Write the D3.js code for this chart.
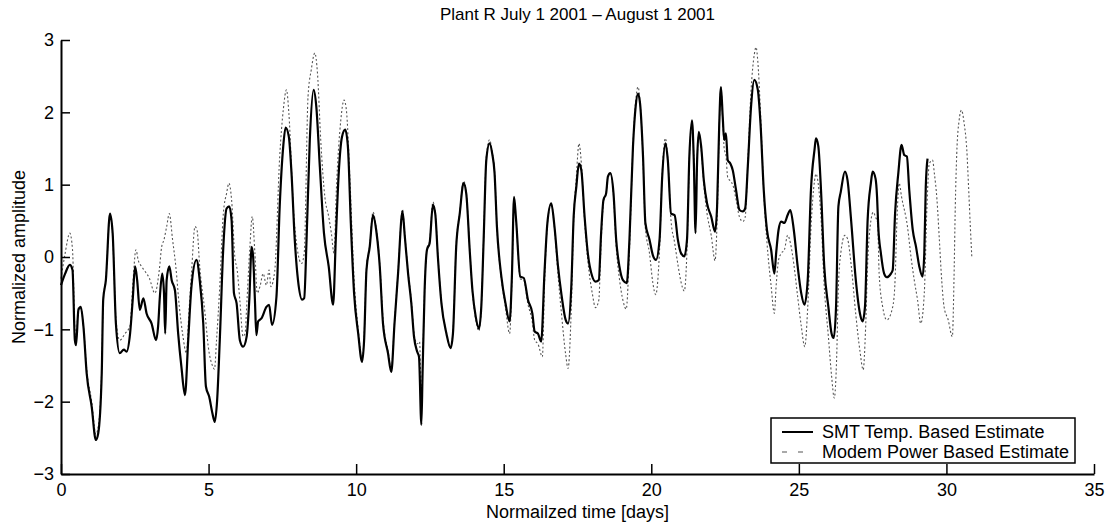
<!DOCTYPE html>
<html>
<head>
<meta charset="utf-8">
<script src="https://cdn.jsdelivr.net/npm/d3@7"></script>
<style>
  html, body { margin: 0; padding: 0; background: #fff; }
  svg { display: block; font-family: "Liberation Sans", Arial, Helvetica, sans-serif; }
</style>
</head>
<body>
<svg id="chart"></svg>
<script>
// Plant R normalized amplitude, two estimates

const TITLE = "Plant R July 1 2001 \u2013 August 1 2001";
const X_LABEL = "Normailzed time [days]";
const Y_LABEL = "Normalized amplitude";
const SERIES_NAMES = ["SMT Temp. Based Estimate", "Modem Power Based Estimate"];
const X_TICKS = [0, 5, 10, 15, 20, 25, 30, 35];
const Y_TICKS = [-3, -2, -1, 0, 1, 2, 3];

// [day, amplitude]
const smtPoints = [
  [0,-0.39],[0.14,-0.23],[0.30,-0.11],[0.39,-0.18],[0.47,-1.15],[0.51,-1.22],[0.59,-0.73],[0.67,-0.69],
  [0.76,-0.96],[0.87,-1.61],[1.04,-2.07],[1.18,-2.53],[1.26,-2.44],[1.38,-1.61],[1.43,-0.59],[1.52,-0.32],
  [1.66,0.60],[1.75,0.33],[1.86,-0.92],[1.99,-1.33],[2.13,-1.28],[2.22,-1.31],[2.34,-1.06],[2.43,-0.59],
  [2.51,-0.13],[2.58,-0.32],[2.67,-0.73],[2.79,-0.57],[2.90,-0.78],[3.07,-0.92],[3.22,-1.15],[3.29,-0.96],
  [3.35,-0.55],[3.43,-0.23],[3.49,-0.50],[3.53,-1.06],[3.58,-0.32],[3.67,-0.13],[3.75,-0.32],[3.86,-0.46],
  [3.97,-1.06],[4.08,-1.52],[4.20,-1.91],[4.31,-1.15],[4.42,-0.41],[4.59,-0.04],[4.70,-0.32],[4.82,-0.92],
  [4.91,-1.79],[5.02,-1.93],[5.13,-2.16],[5.21,-2.28],[5.29,-1.98],[5.38,-1.15],[5.50,0.14],[5.61,0.67],
  [5.70,0.70],[5.78,0.51],[5.86,-0.50],[5.95,-0.64],[6.06,-1.15],[6.17,-1.24],[6.29,-1.10],[6.38,-0.59],
  [6.46,0.14],[6.51,0.00],[6.57,-0.59],[6.62,-1.08],[6.68,-0.89],[6.79,-0.85],[6.96,-0.69],[7.05,-0.66],
  [7.15,-0.94],[7.30,-0.55],[7.41,0.70],[7.53,1.53],[7.61,1.79],[7.72,1.66],[7.81,1.16],[7.92,0.24],
  [8.03,-0.32],[8.17,-0.59],[8.24,-0.57],[8.32,0.24],[8.43,1.62],[8.56,2.31],[8.65,2.08],[8.77,1.25],
  [8.91,0.33],[9.07,-0.13],[9.22,-0.66],[9.31,0.24],[9.41,1.16],[9.52,1.66],[9.63,1.76],[9.72,1.53],
  [9.82,0.47],[9.93,-0.50],[10.07,-1.06],[10.20,-1.45],[10.27,-1.15],[10.35,-0.18],[10.46,0.14],[10.57,0.58],
  [10.68,0.37],[10.80,-0.13],[10.91,-0.92],[11.08,-1.33],[11.19,-1.59],[11.30,-0.92],[11.42,-0.23],[11.57,0.63],
  [11.65,0.28],[11.76,-0.23],[11.87,-0.64],[11.96,-1.10],[12.07,-1.31],[12.13,-1.38],[12.21,-2.32],[12.25,-1.61],
  [12.32,-0.46],[12.40,0.10],[12.49,0.19],[12.60,0.72],[12.68,0.60],[12.77,0.00],[12.89,-0.64],[13.06,-1.06],
  [13.20,-1.26],[13.28,-1.06],[13.39,0.14],[13.51,0.60],[13.64,1.02],[13.73,0.88],[13.85,0.08],[13.94,-0.46],
  [14.05,-0.82],[14.16,-0.99],[14.24,-0.69],[14.32,0.24],[14.41,1.34],[14.52,1.57],[14.61,1.43],[14.69,1.16],
  [14.77,0.42],[14.92,-0.27],[15.06,-0.64],[15.20,-0.89],[15.28,-0.23],[15.35,0.83],[15.42,0.51],[15.56,-0.27],
  [15.68,-0.29],[15.82,-0.59],[15.97,-0.78],[16.05,-1.03],[16.16,-1.06],[16.27,-1.17],[16.38,-0.23],[16.48,0.47],
  [16.61,0.74],[16.72,0.42],[16.84,-0.13],[16.95,-0.50],[17.10,-0.87],[17.18,-0.92],[17.29,-0.41],[17.37,0.56],
  [17.46,0.97],[17.55,1.29],[17.63,1.20],[17.74,0.56],[17.85,0.05],[18.00,-0.27],[18.11,-0.34],[18.22,-0.32],
  [18.30,0.33],[18.38,0.79],[18.47,0.88],[18.53,1.11],[18.61,1.16],[18.72,0.88],[18.81,0.24],[18.92,-0.13],
  [19.04,-0.32],[19.17,-0.36],[19.26,0.24],[19.38,1.53],[19.47,2.08],[19.55,2.26],[19.62,2.12],[19.72,1.39],
  [19.80,0.47],[19.94,0.24],[20.05,0.03],[20.16,-0.04],[20.28,0.24],[20.37,1.11],[20.48,1.57],[20.56,1.34],
  [20.67,0.60],[20.79,0.58],[20.90,0.24],[21.01,0.05],[21.12,0.01],[21.21,0.24],[21.29,1.39],[21.38,1.89],
  [21.44,1.34],[21.50,0.33],[21.55,1.29],[21.61,1.73],[21.69,1.53],[21.78,1.06],[21.89,0.74],[22.03,0.56],
  [22.16,0.35],[22.23,0.70],[22.30,1.80],[22.36,2.35],[22.42,1.94],[22.47,1.62],[22.53,1.71],[22.59,1.34],
  [22.68,1.29],[22.76,1.20],[22.87,0.93],[22.99,0.65],[23.10,0.63],[23.18,0.67],[23.27,1.25],[23.38,2.08],
  [23.49,2.45],[23.61,2.31],[23.70,1.85],[23.81,0.93],[23.92,0.37],[24.06,0.10],[24.17,-0.23],[24.23,0.05],
  [24.31,0.37],[24.40,0.49],[24.51,0.47],[24.62,0.58],[24.71,0.65],[24.83,0.37],[24.96,-0.13],[25.08,-0.50],
  [25.19,-0.66],[25.30,-0.32],[25.41,0.93],[25.53,1.48],[25.58,1.64],[25.66,1.53],[25.75,0.93],[25.86,-0.13],
  [26.00,-0.69],[26.11,-1.06],[26.18,-1.12],[26.26,-0.69],[26.34,0.70],[26.42,0.90],[26.56,1.18],[26.65,1.06],
  [26.77,0.51],[26.93,-0.32],[27.07,-0.78],[27.16,-0.89],[27.24,-0.69],[27.33,0.51],[27.44,1.02],[27.50,1.18],
  [27.60,1.08],[27.65,0.83],[27.69,0.42],[27.78,0.05],[27.89,-0.23],[27.98,-0.28],[28.12,-0.23],[28.18,-0.18],
  [28.26,0.60],[28.37,1.16],[28.48,1.55],[28.57,1.41],[28.66,1.39],[28.74,0.93],[28.86,0.37],[28.97,0.14],
  [29.08,-0.13],[29.19,-0.27],[29.25,0.05],[29.30,0.97],[29.36,1.36]
];

const modemPoints = [
  [0,-0.30],[0.14,0.05],[0.30,0.33],[0.39,0.10],[0.47,-1.00],[0.51,-1.15],[0.59,-0.70],[0.67,-0.70],
  [0.76,-0.96],[0.87,-1.55],[1.04,-2.00],[1.18,-2.45],[1.26,-2.35],[1.38,-1.55],[1.43,-0.60],[1.52,-0.30],
  [1.66,0.58],[1.75,0.30],[1.86,-0.85],[1.99,-1.15],[2.17,-1.06],[2.34,-0.95],[2.43,-0.40],[2.54,0.10],
  [2.62,-0.05],[2.73,-0.13],[2.85,-0.20],[2.99,-0.29],[3.18,-0.50],[3.33,-0.18],[3.41,0.14],[3.49,0.24],
  [3.58,0.42],[3.67,0.60],[3.78,0.24],[3.89,-0.13],[4.01,-0.69],[4.12,-1.06],[4.25,-1.33],[4.33,-0.80],
  [4.42,-0.23],[4.54,0.42],[4.61,0.37],[4.70,-0.13],[4.88,-0.78],[4.99,-1.24],[5.13,-1.50],[5.20,-1.55],
  [5.27,-1.15],[5.38,-0.40],[5.50,0.60],[5.61,0.88],[5.69,1.02],[5.78,0.79],[5.89,0.00],[5.97,-0.18],
  [6.06,-0.60],[6.17,-1.10],[6.24,-1.05],[6.29,-0.69],[6.40,0.14],[6.48,0.56],[6.57,0.05],[6.65,-0.50],
  [6.74,-0.41],[6.85,-0.23],[6.96,-0.39],[7.05,-0.18],[7.11,-0.41],[7.24,-0.20],[7.41,1.39],[7.53,2.03],
  [7.64,2.31],[7.72,1.99],[7.87,0.70],[8.01,0.10],[8.15,-0.09],[8.24,0.05],[8.37,2.22],[8.48,2.59],
  [8.60,2.82],[8.69,2.54],[8.80,1.62],[8.94,0.83],[9.07,0.56],[9.16,0.33],[9.25,0.05],[9.33,0.93],
  [9.48,1.89],[9.59,2.17],[9.67,2.03],[9.78,1.16],[9.93,-0.30],[10.07,-1.00],[10.20,-1.40],[10.27,-1.10],
  [10.35,-0.15],[10.46,0.16],[10.57,0.62],[10.68,0.40],[10.80,-0.10],[10.91,-0.85],[11.08,-1.30],[11.19,-1.55],
  [11.30,-0.90],[11.42,-0.20],[11.57,0.66],[11.65,0.30],[11.76,-0.20],[11.87,-0.60],[11.96,-1.05],[12.07,-1.20],
  [12.15,-1.17],[12.21,-2.00],[12.25,-1.50],[12.32,-0.45],[12.40,0.12],[12.49,0.22],[12.60,0.76],[12.68,0.62],
  [12.77,0.02],[12.89,-0.62],[13.06,-1.05],[13.20,-1.25],[13.28,-1.04],[13.39,0.16],[13.51,0.62],[13.64,1.05],
  [13.73,0.90],[13.85,0.10],[13.94,-0.48],[14.05,-0.86],[14.16,-1.02],[14.24,-0.70],[14.32,0.26],[14.41,1.38],
  [14.52,1.62],[14.61,1.45],[14.69,1.18],[14.77,0.42],[14.92,-0.30],[15.06,-0.70],[15.20,-1.06],[15.28,-0.30],
  [15.35,0.80],[15.42,0.50],[15.56,-0.30],[15.68,-0.32],[15.82,-0.65],[15.97,-0.90],[16.05,-1.15],[16.16,-1.20],
  [16.31,-1.38],[16.38,-0.40],[16.48,0.45],[16.61,0.74],[16.72,0.40],[16.84,-0.25],[16.95,-0.75],[17.10,-1.35],
  [17.18,-1.54],[17.29,-0.70],[17.37,0.50],[17.46,1.10],[17.55,1.57],[17.63,1.30],[17.74,0.50],[17.85,-0.05],
  [18.00,-0.50],[18.11,-0.70],[18.22,-0.60],[18.30,0.20],[18.38,0.75],[18.47,0.88],[18.53,1.11],[18.61,1.16],
  [18.72,0.85],[18.81,0.15],[18.92,-0.30],[19.04,-0.60],[19.15,-0.72],[19.26,0.10],[19.38,1.55],[19.47,2.15],
  [19.55,2.35],[19.62,2.15],[19.72,1.35],[19.80,0.40],[19.94,0.05],[20.05,-0.35],[20.15,-0.52],[20.28,0.10],
  [20.37,1.15],[20.48,1.64],[20.56,1.35],[20.67,0.50],[20.79,0.20],[20.90,-0.10],[21.01,-0.35],[21.12,-0.47],
  [21.21,0.10],[21.29,1.35],[21.38,1.85],[21.44,1.40],[21.50,0.60],[21.55,1.30],[21.61,1.70],[21.69,1.50],
  [21.78,1.00],[21.89,0.60],[22.03,0.30],[22.16,-0.05],[22.23,0.50],[22.30,1.75],[22.36,2.35],[22.42,1.90],
  [22.47,1.50],[22.53,1.40],[22.59,1.10],[22.68,1.05],[22.76,1.00],[22.87,0.80],[22.99,0.55],[23.10,0.49],
  [23.18,0.55],[23.27,1.30],[23.38,2.30],[23.49,2.80],[23.55,2.90],[23.61,2.70],[23.70,2.00],[23.81,0.90],
  [23.92,0.20],[24.06,-0.40],[24.17,-0.78],[24.23,-0.40],[24.31,-0.05],[24.40,0.05],[24.51,0.10],[24.62,0.30],
  [24.71,0.20],[24.83,-0.10],[24.96,-0.55],[25.08,-0.95],[25.20,-1.24],[25.30,-0.70],[25.41,0.40],[25.53,1.05],
  [25.58,1.15],[25.66,1.00],[25.75,0.55],[25.86,-0.40],[26.00,-1.10],[26.11,-1.65],[26.20,-1.95],[26.28,-1.40],
  [26.34,-0.40],[26.42,0.05],[26.56,0.30],[26.65,0.25],[26.77,-0.10],[26.93,-0.80],[27.07,-1.30],[27.18,-1.56],
  [27.26,-1.00],[27.33,-0.10],[27.44,0.50],[27.52,0.62],[27.60,0.55],[27.67,0.47],[27.72,-0.23],[27.84,-0.69],
  [27.98,-0.87],[28.18,-0.69],[28.26,-0.32],[28.32,0.47],[28.40,1.02],[28.48,0.83],[28.68,0.42],[28.80,0.00],
  [28.91,-0.32],[29.02,-0.59],[29.13,-0.92],[29.25,-0.50],[29.34,0.70],[29.42,1.29],[29.53,1.34],[29.59,1.16],
  [29.68,0.79],[29.76,0.24],[29.84,-0.32],[29.92,-0.69],[30.06,-0.87],[30.20,-1.10],[30.26,-0.23],[30.30,0.70],
  [30.35,1.43],[30.43,1.89],[30.51,2.03],[30.60,1.85],[30.69,1.48],[30.75,0.97],[30.81,0.42],[30.86,0.00]
];

const WIDTH = 1111;
const HEIGHT = 523;
const PLOT_LEFT = 61;
const PLOT_RIGHT = 1094;
const PLOT_TOP = 40;
const PLOT_BOTTOM = 474;
const FONT_SIZE = 18;

const svg = d3.select("#chart")
    .attr("width", WIDTH)
    .attr("height", HEIGHT);

const x = d3.scaleLinear().domain([0, 35]).range([PLOT_LEFT, PLOT_RIGHT]);
const y = d3.scaleLinear().domain([-3, 3]).range([PLOT_BOTTOM, PLOT_TOP]);

const line = d3.line()
    .x(d => x(d[0]))
    .y(d => y(d[1]))
    .curve(d3.curveMonotoneX);

// Dotted modem series under the solid one
svg.append("path")
    .datum(modemPoints)
    .attr("fill", "none")
    .attr("stroke", "#555")
    .attr("stroke-width", 1.1)
    .attr("stroke-dasharray", "2,2.2")
    .attr("d", line);

svg.append("path")
    .datum(smtPoints)
    .attr("fill", "none")
    .attr("stroke", "#000")
    .attr("stroke-width", 2.2)
    .attr("stroke-linejoin", "round")
    .attr("d", line);

// Axes, ticks pointing inward like MATLAB
const xAxis = d3.axisBottom(x)
    .tickValues(X_TICKS)
    .tickSizeInner(-10)
    .tickSizeOuter(0)
    .tickPadding(9)
    .tickFormat(d3.format("d"));

const yAxis = d3.axisLeft(y)
    .tickValues(Y_TICKS)
    .tickSizeInner(-9)
    .tickSizeOuter(0)
    .tickPadding(7)
    .tickFormat(d3.format("d"));

const gx = svg.append("g")
    .attr("transform", `translate(0,${PLOT_BOTTOM})`)
    .call(xAxis);

const gy = svg.append("g")
    .attr("transform", `translate(${PLOT_LEFT},0)`)
    .call(yAxis);

[gx, gy].forEach(g => {
    g.select(".domain").attr("stroke", "#000").attr("stroke-width", 2);
    g.selectAll(".tick line").attr("stroke", "#000").attr("stroke-width", 1.5);
    g.selectAll(".tick text")
        .attr("fill", "#000")
        .attr("font-size", FONT_SIZE + "px")
        .attr("font-family", "'Liberation Sans', Arial, sans-serif");
});

// Title and axis labels
svg.append("text")
    .attr("x", (PLOT_LEFT + PLOT_RIGHT) / 2)
    .attr("y", 20)
    .attr("text-anchor", "middle")
    .attr("font-size", "17px")
    .text(TITLE);

svg.append("text")
    .attr("x", (PLOT_LEFT + PLOT_RIGHT) / 2)
    .attr("y", 518)
    .attr("text-anchor", "middle")
    .attr("font-size", FONT_SIZE + "px")
    .text(X_LABEL);

svg.append("text")
    .attr("transform", `translate(25,${(PLOT_TOP + PLOT_BOTTOM) / 2}) rotate(-90)`)
    .attr("text-anchor", "middle")
    .attr("font-size", FONT_SIZE + "px")
    .text(Y_LABEL);

// Legend box, bottom right
const legend = svg.append("g").attr("transform", "translate(771,418)");

legend.append("rect")
    .attr("width", 304)
    .attr("height", 45)
    .attr("fill", "#fff")
    .attr("stroke", "#000")
    .attr("stroke-width", 1.5);

const legendStyles = [
    { stroke: "#000", width: 2, dash: null },
    { stroke: "#555", width: 1.1, dash: "5,11" }
];

SERIES_NAMES.forEach((name, i) => {
    const cy = 14 + i * 20;
    legend.append("line")
        .attr("x1", 11).attr("x2", 42)
        .attr("y1", cy).attr("y2", cy)
        .attr("stroke", legendStyles[i].stroke)
        .attr("stroke-width", legendStyles[i].width)
        .attr("stroke-dasharray", legendStyles[i].dash);

    legend.append("text")
        .attr("x", 51)
        .attr("y", cy)
        .attr("dy", "0.36em")
        .attr("font-size", FONT_SIZE + "px")
        .text(name);
});
</script>
</body>
</html>
